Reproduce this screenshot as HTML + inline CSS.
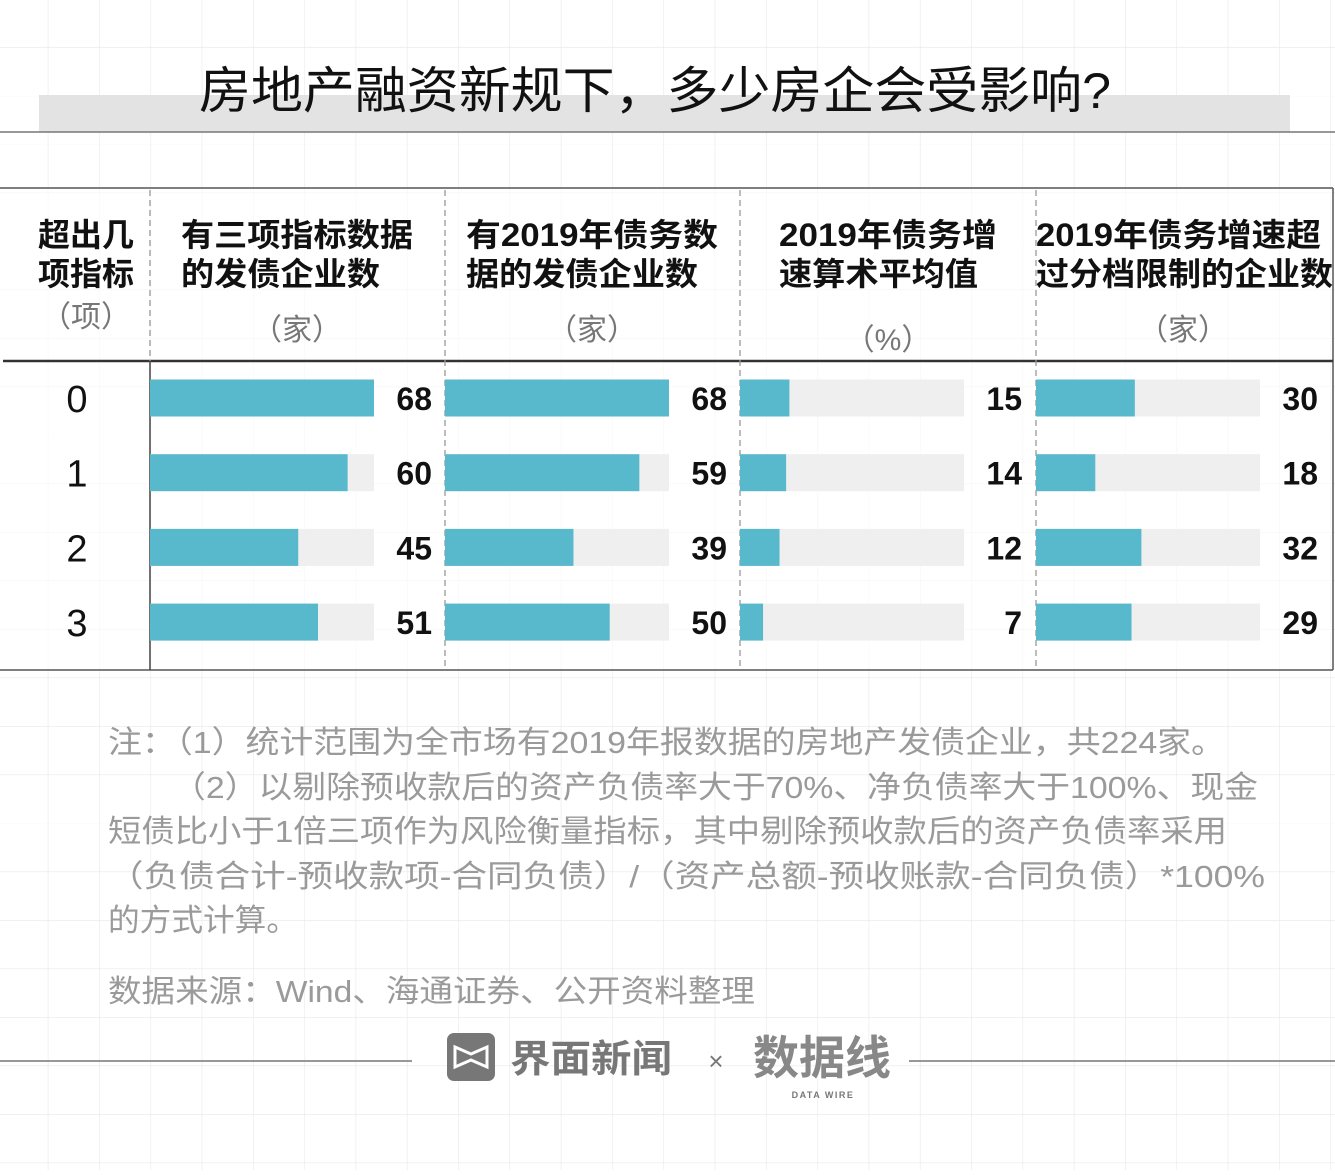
<!DOCTYPE html>
<html><head><meta charset="utf-8">
<style>
html,body{margin:0;padding:0;background:#fff;}
body{width:1335px;height:1170px;overflow:hidden;font-family:"Liberation Sans","Noto Sans CJK SC",sans-serif;}
svg text{font-family:"Liberation Sans","Noto Sans CJK SC",sans-serif;}
</style></head>
<body>
<svg id="chart" width="1335" height="1170" xmlns="http://www.w3.org/2000/svg">
<defs>
<pattern id="grid" width="51.3" height="48.5" patternUnits="userSpaceOnUse" x="47.8" y="47">
<path d="M0 0 H51.3 M0 0 V48.5" stroke="#e8e8e8" stroke-width="1.2" fill="none"/>
</pattern>
</defs>
<rect width="1335" height="1170" fill="url(#grid)"/>
<rect x="39" y="95" width="1251" height="37" fill="#e3e3e3"/>
<line x1="0" y1="132" x2="1335" y2="132" stroke="#777" stroke-width="1.5"/>
<text x="199" y="108" textLength="912" lengthAdjust="spacingAndGlyphs" font-size="50" fill="#111">房地产融资新规下，多少房企会受影响?</text>

<g id="table">
<rect x="0" y="188" width="1333" height="482" fill="#fff" fill-opacity="0.6"/>
<line x1="0" y1="188" x2="1333" y2="188" stroke="#555" stroke-width="1.5"/>
<line x1="0" y1="670" x2="1333" y2="670" stroke="#555" stroke-width="1.5"/>
<line x1="1333" y1="188" x2="1333" y2="670" stroke="#555" stroke-width="1.5"/>
<line x1="3" y1="361" x2="1333" y2="361" stroke="#333" stroke-width="2.5"/>
<line x1="150" y1="361" x2="150" y2="670" stroke="#444" stroke-width="1.5"/>
<g id="dividers"></g>
<g id="headers" font-size="32" font-weight="bold" fill="#111">
<text><tspan x="38" y="246">超出几</tspan><tspan x="38" y="285">项指标</tspan></text>
<text x="86" y="327" font-size="30" font-weight="normal" fill="#777" text-anchor="middle">（项）</text>
<text x="181" y="246" textLength="232" lengthAdjust="spacingAndGlyphs">有三项指标数据</text>
<text x="181" y="285" textLength="199" lengthAdjust="spacingAndGlyphs">的发债企业数</text>
<text x="297" y="340" font-size="30" font-weight="normal" fill="#777" text-anchor="middle">（家）</text>
<text x="466" y="246" textLength="252" lengthAdjust="spacingAndGlyphs">有2019年债务数</text>
<text x="466" y="285" textLength="232" lengthAdjust="spacingAndGlyphs">据的发债企业数</text>
<text x="592" y="340" font-size="30" font-weight="normal" fill="#777" text-anchor="middle">（家）</text>
<text x="779" y="246" textLength="218" lengthAdjust="spacingAndGlyphs">2019年债务增</text>
<text x="779" y="285" textLength="199" lengthAdjust="spacingAndGlyphs">速算术平均值</text>
<text x="888" y="350" font-size="30" font-weight="normal" fill="#777" text-anchor="middle">（%）</text>
<text x="1036" y="246" textLength="285" lengthAdjust="spacingAndGlyphs">2019年债务增速超</text>
<text x="1036" y="285" textLength="297" lengthAdjust="spacingAndGlyphs">过分档限制的企业数</text>
<text x="1183" y="340" font-size="30" font-weight="normal" fill="#777" text-anchor="middle">（家）</text>
</g>
<g id="rows"></g>
<g id="bars"></g>
</g>

<g font-size="31" fill="#9a9a9a">
<text x="108" y="753" textLength="1117" lengthAdjust="spacingAndGlyphs">注：（1）统计范围为全市场有2019年报数据的房地产发债企业，共224家。</text>
<text x="172" y="798" textLength="1086" lengthAdjust="spacingAndGlyphs">（2）以剔除预收款后的资产负债率大于70%、净负债率大于100%、现金</text>
<text x="108" y="842" textLength="1119" lengthAdjust="spacingAndGlyphs">短债比小于1倍三项作为风险衡量指标，其中剔除预收款后的资产负债率采用</text>
<text x="108" y="887" textLength="1157" lengthAdjust="spacingAndGlyphs">（负债合计-预收款项-合同负债）/（资产总额-预收账款-合同负债）*100%</text>
<text x="108" y="931" textLength="190" lengthAdjust="spacingAndGlyphs">的方式计算。</text>
<text x="108" y="1002" textLength="647" lengthAdjust="spacingAndGlyphs">数据来源：Wind、海通证券、公开资料整理</text>
</g>

<g>
<line x1="0" y1="1061" x2="412" y2="1061" stroke="#777" stroke-width="1.5"/>
<line x1="909" y1="1061" x2="1335" y2="1061" stroke="#777" stroke-width="1.5"/>
<rect x="447" y="1033" width="48" height="48" rx="7" fill="#777"/>
<path d="M455 1047 L471 1054 L487 1047 V1067 L471 1060 L455 1067 Z" fill="none" stroke="#fff" stroke-width="3"/>
<text x="510" y="1072" textLength="162" lengthAdjust="spacingAndGlyphs" font-size="38" font-weight="bold" fill="#777">界面新闻</text>
<text x="716" y="1070" font-size="26" fill="#777" text-anchor="middle">×</text>
<text x="822" y="1074" font-size="46" font-weight="bold" fill="#888" text-anchor="middle">数据线</text>
<text x="823" y="1098" font-size="9" font-weight="bold" fill="#777" text-anchor="middle" letter-spacing="1.5">DATA WIRE</text>
</g>
</svg>
<script>
const categories = ['0','1','2','3'];
const seriesCol1 = [68,60,45,51];
const seriesCol2 = [68,59,39,50];
const seriesCol3 = [15,14,12,7];
const seriesCol4 = [30,18,32,29];
const maxValue = 68;

const NS='http://www.w3.org/2000/svg';
const series=[seriesCol1,seriesCol2,seriesCol3,seriesCol4];
const colX=[150,445,740,1036];
const trackW=224;
const valueRight=[432,727,1022,1318];
const rowY0=398, rowStep=74.7, barH=37;
function xScale(v){return v/maxValue*trackW;}
function yScale(i){return rowY0+i*rowStep;}
function mk(tag,attrs){const e=document.createElementNS(NS,tag);for(const k in attrs)e.setAttribute(k,attrs[k]);return e;}

const div=document.getElementById('dividers');
[150,445,740,1036].forEach((x,i)=>{
  const l=mk('line',{x1:x,y1:190,x2:x,y2:i===0?361:669,stroke:'#999','stroke-width':1.3,'stroke-dasharray':'6 4'});
  
  
  div.appendChild(l);
});

const rows=document.getElementById('rows');
categories.forEach((c,i)=>{
  const t=mk('text',{x:77,y:yScale(i)+14,'font-size':38,fill:'#111','text-anchor':'middle'});
  t.textContent=c;
  
  
  rows.appendChild(t);
});

const bars=document.getElementById('bars');
series.forEach((s,j)=>{
  s.forEach((v,i)=>{
    const y=yScale(i)-barH/2;
    const tr=mk('rect',{x:colX[j],y:y,width:trackW,height:barH,fill:'#efefef'});
    
    
    bars.appendChild(tr);
    const b=mk('rect',{x:colX[j],y:y,width:xScale(v),height:barH,fill:'#58b9cd'});
    
    
    bars.appendChild(b);
    const t=mk('text',{x:valueRight[j],y:yScale(i)+12,'font-size':32,'font-weight':'bold',fill:'#111','text-anchor':'end'});
    t.textContent=v;
    
    
    bars.appendChild(t);
  });
});
</script>
</body></html>
